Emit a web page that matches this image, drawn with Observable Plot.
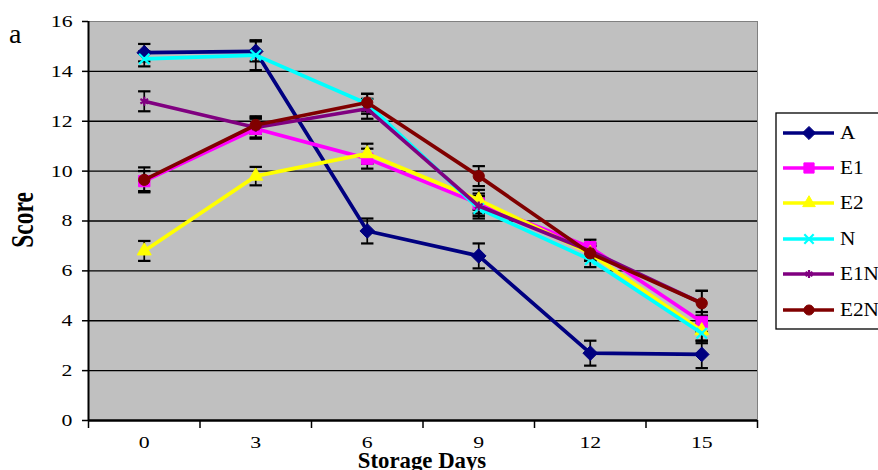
<!DOCTYPE html>
<html>
<head>
<meta charset="utf-8">
<script src="https://cdn.jsdelivr.net/npm/d3@7"></script>
<script src="https://cdn.jsdelivr.net/npm/@observablehq/plot@0.6"></script>
<style>
  html, body { margin: 0; padding: 0; background: #fff; }
  #chart { position: relative; width: 878px; height: 470px; overflow: hidden; }
</style>
</head>
<body>
<div id="chart"></div>
<script>
// ---- data ----
const days = [0, 3, 6, 9, 12, 15];
const seriesNames = ["A", "E1", "E2", "N", "E1N", "E2N"];
const A   = [14.75, 14.8, 7.6, 6.6, 2.7, 2.65];
const E1  = [9.6, 11.7, 10.5, 8.7, 6.95, 3.95];
const E2  = [6.8, 9.8, 10.7, 8.85, 6.7, 3.6];
const N   = [14.5, 14.65, 12.7, 8.5, 6.45, 3.5];
const E1N = [12.8, 11.75, 12.5, 8.6, 6.8, 4.7];
const E2N = [9.65, 11.85, 12.75, 9.8, 6.7, 4.7];
const errA   = [0.35, 0.4, 0.5, 0.5, 0.5, 0.55];
const errE1  = [0.4, 0.4, 0.4, 0.4, 0.3, 0.4];
const errE2  = [0.4, 0.37, 0.4, 0.4, 0.3, 0.4];
const errN   = [0.3, 0.6, 0.4, 0.4, 0.3, 0.4];
const errE1N = [0.4, 0.4, 0.4, 0.4, 0.3, 0.5];
const errE2N = [0.5, 0.35, 0.35, 0.4, 0.3, 0.5];
const yTicks = [0, 2, 4, 6, 8, 10, 12, 14, 16];
const gridTicks = [2, 4, 6, 8, 10, 12, 14];

const values = [A, E1, E2, N, E1N, E2N];
const errors = [errA, errE1, errE2, errN, errE1N, errE2N];
const colors = ["#000080", "#FF00FF", "#FFFF00", "#00FFFF", "#800080", "#800000"];
const symbols = ["diamond2", "square", "triangle", "times", "asterisk", "circle"];
const d3symbols = [d3.symbolDiamond2, d3.symbolSquare, d3.symbolTriangle, d3.symbolTimes, d3.symbolAsterisk, d3.symbolCircle];
const filled = [true, true, true, false, false, true];
const radius = [6.6, 6.4, 5.2, 4.8, 4.2, 5.6];

const table = seriesNames.map((s, i) => days.map((d, j) => ({series: s, day: d, v: values[i][j], e: errors[i][j]})));
const allRows = table.flat();

// category boundaries (midpoints between storage days)
const step = days[1] - days[0];
const bounds = days.map(d => d - step / 2).concat([days[days.length - 1] + step / 2]);

const capSymbol = {
  draw(ctx, size) {
    const w = Math.sqrt(size / Math.PI);
    ctx.moveTo(-w, 0);
    ctx.lineTo(w, 0);
  }
};

const font = "Liberation Serif";
const marks = [
  Plot.frame({fill: "#C0C0C0", stroke: "#808080"}),
  Plot.gridY(gridTicks, {stroke: "black", strokeOpacity: 1, strokeWidth: 1.3}),
  Plot.axisY({ticks: yTicks, tickSize: 6, tickPadding: 10, label: null, fontSize: 17, stroke: "black", strokeWidth: 1.5}),
  Plot.axisX({ticks: days, tickSize: 0, tickPadding: 15, label: null, fontSize: 17}),
  Plot.axisX({ticks: bounds, tickSize: 8, tickFormat: () => "", label: null, stroke: "black", strokeWidth: 1.5}),
  Plot.ruleX([bounds[0]], {stroke: "black", strokeWidth: 2}),
  Plot.ruleY([0], {stroke: "black", strokeWidth: 2.5}),
  // error bars
  Plot.ruleX(allRows, {x: "day", y1: d => d.v - d.e, y2: d => d.v + d.e, stroke: "black", strokeWidth: 1.7}),
  Plot.dot(allRows, {x: "day", y: d => d.v + d.e, symbol: capSymbol, r: 6.2, fill: "none", stroke: "black", strokeWidth: 2.2}),
  Plot.dot(allRows, {x: "day", y: d => d.v - d.e, symbol: capSymbol, r: 6.2, fill: "none", stroke: "black", strokeWidth: 2.2})
];
table.forEach((rows, i) => {
  marks.push(Plot.line(rows, {x: "day", y: "v", stroke: colors[i], strokeWidth: 3.7}));
  marks.push(Plot.dot(rows, {
    x: "day", y: "v", symbol: symbols[i], r: radius[i],
    fill: filled[i] ? colors[i] : "none",
    stroke: colors[i], strokeWidth: filled[i] ? 1 : 2.2
  }));
});

const chart = Plot.plot({
  width: 878,
  height: 470,
  marginLeft: 88,
  marginRight: 121,
  marginTop: 21,
  marginBottom: 50,
  style: {fontFamily: font, fontSize: "17px", color: "black", background: "white"},
  x: {type: "linear", domain: [bounds[0], bounds[bounds.length - 1]], axis: null},
  y: {domain: [0, 16], axis: null},
  marks
});
document.getElementById("chart").appendChild(chart);

const svg = d3.select(chart);

// reference text is horizontally stretched: widen the tick labels around their anchors
svg.selectAll("text").each(function () {
  const t = d3.select(this);
  const tr = t.attr("transform");
  if (tr && tr.includes("translate")) {
    t.attr("transform", tr + " scale(1.28,1)");
  } else {
    const x = +(t.attr("x") || 0), y = +(t.attr("y") || 0);
    t.attr("transform", `translate(${x},${y}) scale(1.28,1) translate(${-x},${-y})`);
  }
});

// extra labels
svg.append("text").attr("x", 9).attr("y", 43).attr("text-anchor", "start")
  .attr("font-family", font).attr("font-size", 28).attr("fill", "black").text("a");
svg.append("text").attr("transform", "translate(33,220) rotate(-90) scale(1,1.3)").attr("text-anchor", "middle")
  .attr("font-family", font).attr("font-size", 23.5).attr("font-weight", "bold").attr("fill", "black").text("Score");
svg.append("text").attr("transform", "translate(422,468) scale(0.95,1)").attr("text-anchor", "middle")
  .attr("font-family", font).attr("font-size", 24).attr("font-weight", "bold").attr("fill", "black").text("Storage Days");

// legend
const lg = svg.append("g").attr("transform", "translate(776,113)");
lg.append("rect").attr("width", 120).attr("height", 216).attr("fill", "white").attr("stroke", "black").attr("stroke-width", 1.3);
const rowYs = [20, 55, 90, 126, 161, 197];
seriesNames.forEach((s, i) => {
  const g = lg.append("g").attr("transform", `translate(0,${rowYs[i]})`);
  g.append("line").attr("x1", 7).attr("x2", 58).attr("y1", 0).attr("y2", 0).attr("stroke", colors[i]).attr("stroke-width", 3.6);
  g.append("path").attr("transform", "translate(33,0)")
    .attr("d", d3.symbol(d3symbols[i], Math.PI * Math.pow(radius[i] * 0.9, 2))())
    .attr("fill", filled[i] ? colors[i] : "none").attr("stroke", colors[i]).attr("stroke-width", filled[i] ? 1 : 2.2);
  g.append("text").attr("transform", "translate(64,0) scale(1.15,1)").attr("dy", "0.35em").attr("text-anchor", "start")
    .attr("font-family", font).attr("font-size", 18.5).attr("fill", "black").text(s);
});
</script>
</body>
</html>
